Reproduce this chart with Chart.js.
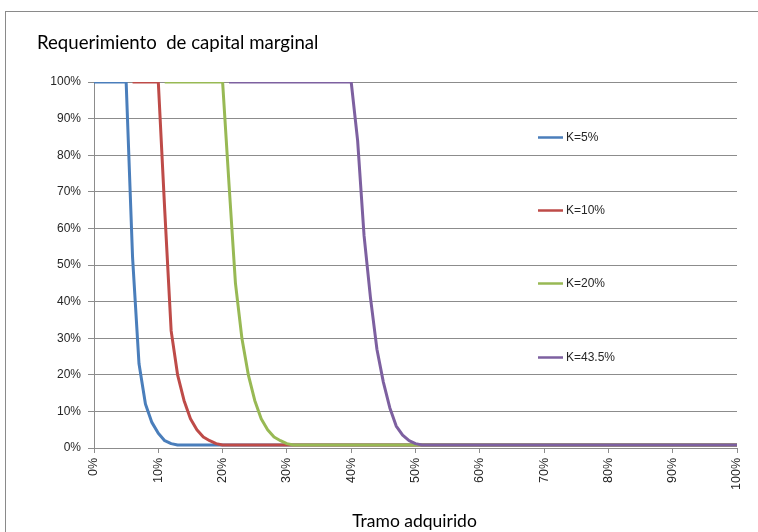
<!DOCTYPE html>
<html>
<head>
<meta charset="utf-8">
<script src="https://cdn.jsdelivr.net/npm/chart.js@4.4.1/dist/chart.umd.min.js"></script>
<style>
  html, body { margin: 0; padding: 0; background: #ffffff; }
  #wrap { position: relative; width: 758px; height: 532px; }
</style>
</head>
<body>
<div id="wrap"><canvas id="c" width="758" height="532"></canvas></div>
<script>
// Tranche acquired, 0% .. 100% in steps of 1%
const tramo = Array.from({ length: 101 }, (_, i) => i);

const seriesNames = ['K=5%', 'K=10%', 'K=20%', 'K=43.5%'];
const seriesColors = ['#4A7EBB', '#BE4B48', '#98B954', '#7D60A0'];
const yTickValues = [0, 10, 20, 30, 40, 50, 60, 70, 80, 90, 100];
const xTickValues = [0, 10, 20, 30, 40, 50, 60, 70, 80, 90, 100];

// Marginal capital requirement (%) for each tranche point
const k5 = [
  100, 100, 100, 100, 100, 100, 52, 23, 12, 7,
  4, 2, 1.2, 0.8, 0.8, 0.8, 0.8, 0.8, 0.8, 0.8,
  0.8, 0.8, 0.8, 0.8, 0.8, 0.8, 0.8, 0.8, 0.8, 0.8,
  0.8, 0.8, 0.8, 0.8, 0.8, 0.8, 0.8, 0.8, 0.8, 0.8,
  0.8, 0.8, 0.8, 0.8, 0.8, 0.8, 0.8, 0.8, 0.8, 0.8,
  0.8, 0.8, 0.8, 0.8, 0.8, 0.8, 0.8, 0.8, 0.8, 0.8,
  0.8, 0.8, 0.8, 0.8, 0.8, 0.8, 0.8, 0.8, 0.8, 0.8,
  0.8, 0.8, 0.8, 0.8, 0.8, 0.8, 0.8, 0.8, 0.8, 0.8,
  0.8, 0.8, 0.8, 0.8, 0.8, 0.8, 0.8, 0.8, 0.8, 0.8,
  0.8, 0.8, 0.8, 0.8, 0.8, 0.8, 0.8, 0.8, 0.8, 0.8,
  0.8
];
const k10 = [
  null, null, null, null, null, null, 100, 100, 100, 100,
  100, 65, 32, 20, 13, 8, 5, 3, 2, 1.2,
  0.8, 0.8, 0.8, 0.8, 0.8, 0.8, 0.8, 0.8, 0.8, 0.8,
  0.8, 0.8, 0.8, 0.8, 0.8, 0.8, 0.8, 0.8, 0.8, 0.8,
  0.8, 0.8, 0.8, 0.8, 0.8, 0.8, 0.8, 0.8, 0.8, 0.8,
  0.8, 0.8, 0.8, 0.8, 0.8, 0.8, 0.8, 0.8, 0.8, 0.8,
  0.8, 0.8, 0.8, 0.8, 0.8, 0.8, 0.8, 0.8, 0.8, 0.8,
  0.8, 0.8, 0.8, 0.8, 0.8, 0.8, 0.8, 0.8, 0.8, 0.8,
  0.8, 0.8, 0.8, 0.8, 0.8, 0.8, 0.8, 0.8, 0.8, 0.8,
  0.8, 0.8, 0.8, 0.8, 0.8, 0.8, 0.8, 0.8, 0.8, 0.8,
  0.8
];
const k20 = [
  null, null, null, null, null, null, null, null, null, null,
  null, 100, 100, 100, 100, 100, 100, 100, 100, 100,
  100, 72, 45, 30, 20, 13, 8, 5, 3, 2,
  1.2, 0.8, 0.8, 0.8, 0.8, 0.8, 0.8, 0.8, 0.8, 0.8,
  0.8, 0.8, 0.8, 0.8, 0.8, 0.8, 0.8, 0.8, 0.8, 0.8,
  0.8, 0.8, 0.8, 0.8, 0.8, 0.8, 0.8, 0.8, 0.8, 0.8,
  0.8, 0.8, 0.8, 0.8, 0.8, 0.8, 0.8, 0.8, 0.8, 0.8,
  0.8, 0.8, 0.8, 0.8, 0.8, 0.8, 0.8, 0.8, 0.8, 0.8,
  0.8, 0.8, 0.8, 0.8, 0.8, 0.8, 0.8, 0.8, 0.8, 0.8,
  0.8, 0.8, 0.8, 0.8, 0.8, 0.8, 0.8, 0.8, 0.8, 0.8,
  0.8
];
const k435 = [
  null, null, null, null, null, null, null, null, null, null,
  null, null, null, null, null, null, null, null, null, null,
  null, 100, 100, 100, 100, 100, 100, 100, 100, 100,
  100, 100, 100, 100, 100, 100, 100, 100, 100, 100,
  100, 84, 58, 41, 27, 18, 11, 6, 3.5, 2,
  1.2, 0.8, 0.8, 0.8, 0.8, 0.8, 0.8, 0.8, 0.8, 0.8,
  0.8, 0.8, 0.8, 0.8, 0.8, 0.8, 0.8, 0.8, 0.8, 0.8,
  0.8, 0.8, 0.8, 0.8, 0.8, 0.8, 0.8, 0.8, 0.8, 0.8,
  0.8, 0.8, 0.8, 0.8, 0.8, 0.8, 0.8, 0.8, 0.8, 0.8,
  0.8, 0.8, 0.8, 0.8, 0.8, 0.8, 0.8, 0.8, 0.8, 0.8,
  0.8
];

const seriesValues = [k5, k10, k20, k435];
// legend rows sit between gridlines on the right side of the plot
const legendLevels = [85, 65, 45, 25];

const GRID = '#8c8c8c';
const TEXT = '#262626';

const datasets = seriesValues.map((vals, s) => ({
  label: seriesNames[s],
  data: vals.map((v, i) => ({ x: tramo[i], y: v })),
  borderColor: seriesColors[s],
  backgroundColor: seriesColors[s],
  borderWidth: 3,
  pointRadius: 0,
  pointHoverRadius: 0,
  tension: 0,
  fill: false,
  spanGaps: false,
  borderJoinStyle: 'round',
  order: seriesValues.length - s   // later series drawn on top
}));

// Outer frame, chart title, in-plot legend and x-axis title
const decorations = {
  id: 'decorations',
  beforeDraw(chart) {
    const ctx = chart.ctx;
    ctx.save();
    ctx.fillStyle = '#ffffff';
    ctx.fillRect(0, 0, chart.width, chart.height);
    ctx.strokeStyle = '#8a8a8a';
    ctx.lineWidth = 1;
    ctx.strokeRect(5.5, 11.5, 900, 700);
    ctx.fillStyle = '#000000';
    ctx.font = '18.6px Lato';
    ctx.textBaseline = 'alphabetic';
    ctx.textAlign = 'left';
    ctx.fillText('Requerimiento  de capital marginal', 37, 49);
    ctx.restore();
  },
  afterDraw(chart) {
    const ctx = chart.ctx;
    const yScale = chart.scales.y;
    const area = chart.chartArea;
    ctx.save();
    ctx.font = '12px "Liberation Sans"';
    ctx.textBaseline = 'middle';
    ctx.textAlign = 'left';
    seriesNames.forEach((name, s) => {
      const y = Math.round(yScale.getPixelForValue(legendLevels[s])) + 0.5;
      ctx.strokeStyle = seriesColors[s];
      ctx.lineWidth = 2.5;
      ctx.beginPath();
      ctx.moveTo(538, y);
      ctx.lineTo(563, y);
      ctx.stroke();
      ctx.fillStyle = TEXT;
      ctx.fillText(name, 566, y + 0.5);
    });
    ctx.fillStyle = '#000000';
    ctx.font = '17.5px Lato';
    ctx.textAlign = 'center';
    ctx.textBaseline = 'alphabetic';
    ctx.fillText('Tramo adquirido', (area.left + area.right) / 2 - 1, 527);
    ctx.restore();
  }
};

new Chart(document.getElementById('c'), {
  type: 'line',
  data: { datasets },
  options: {
    responsive: false,
    animation: false,
    events: [],
    layout: { padding: { top: 82, right: 21, left: 0, bottom: 0 } },
    plugins: {
      legend: { display: false },
      tooltip: { enabled: false },
      title: { display: false }
    },
    scales: {
      x: {
        type: 'linear',
        min: 0,
        max: 100,
        afterFit(scale) { scale.height = 84; },
        afterBuildTicks(scale) {
          scale.ticks = xTickValues.map(v => ({ value: v }));
        },
        ticks: {
          autoSkip: false,
          maxRotation: 90,
          minRotation: 90,
          padding: 5,
          color: TEXT,
          font: { family: '"Liberation Sans"', size: 12.5 },
          callback: v => v + '%'
        },
        grid: {
          display: true,
          drawOnChartArea: false,
          drawTicks: true,
          tickLength: 5,
          color: GRID
        },
        border: { display: true, color: GRID, width: 1 }
      },
      y: {
        min: 0,
        max: 100,
        afterFit(scale) { scale.width = 94; },
        afterBuildTicks(scale) {
          scale.ticks = yTickValues.map(v => ({ value: v }));
        },
        ticks: {
          padding: 7,
          color: TEXT,
          font: { family: '"Liberation Sans"', size: 12 },
          callback: v => v + '%'
        },
        grid: {
          color: GRID,
          lineWidth: 1,
          tickLength: 6,
          drawTicks: true
        },
        border: { display: true, color: GRID, width: 1 }
      }
    }
  },
  plugins: [decorations]
});
</script>
</body>
</html>
